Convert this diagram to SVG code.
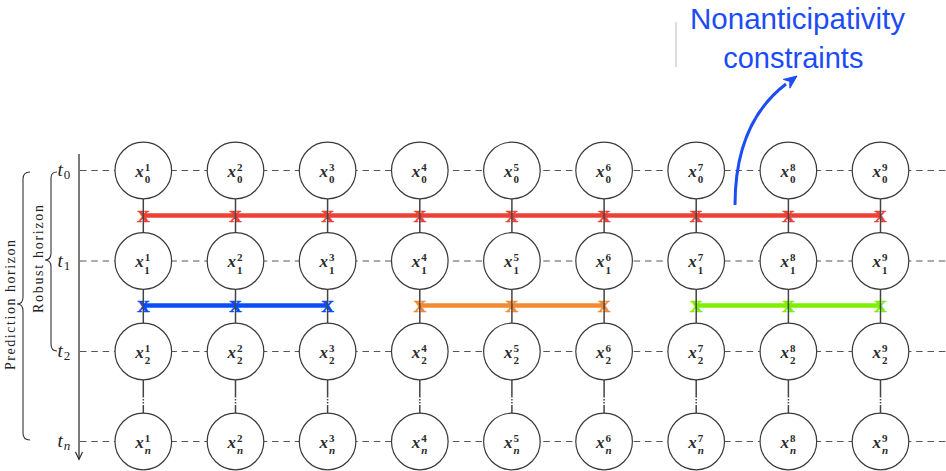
<svg xmlns="http://www.w3.org/2000/svg" width="946" height="471" viewBox="0 0 946 471">
<style>
.grid{stroke:#555;stroke-width:1;stroke-dasharray:6.5 4.8;fill:none}
.link{stroke:#444;stroke-width:1.5;fill:none}
.dot{stroke:#444;stroke-width:1.5;stroke-dasharray:1.5 1.5;fill:none}
.bar{stroke-width:4.5;fill:none}
.mk{font-family:"Liberation Serif",serif;font-weight:bold;font-size:17px;text-anchor:middle;stroke-width:0.7}
.c{fill:#fff;stroke:#3a3a3a;stroke-width:1.2}
.lb{font-family:"Liberation Serif",serif;font-style:italic;font-weight:bold;font-size:17px;fill:#2a2a2a}
.sp{font-style:normal;font-size:11px}
.sn{font-style:italic;font-size:11px}
.tl{font-family:"Liberation Serif",serif;font-style:italic;font-size:19px;fill:#222}
.ts{font-style:normal;font-size:13px}
.tsi{font-style:italic;font-size:13px}
.brace{stroke:#333;stroke-width:1.1;fill:none}
.hz{font-family:"Liberation Serif",serif;font-size:14px;fill:#222;text-anchor:middle}
.ann{font-family:"Liberation Sans",sans-serif;font-size:29px;fill:#1c4cf6;text-anchor:middle}
</style>

<g id="annotation">
<line x1="676" y1="22" x2="676" y2="67" stroke="#bbb" stroke-width="1"/>
<text class="ann" x="797.5" y="28.5" textLength="215" lengthAdjust="spacingAndGlyphs">Nonanticipativity</text>
<text class="ann" x="793.3" y="68">constraints</text>
</g>

<g id="axis">
<line x1="79" y1="154" x2="79" y2="459" stroke="#222" stroke-width="1.2"/>
<polyline points="75.5,452 79,459.5 82.5,452" fill="none" stroke="#222" stroke-width="1.1"/>
<text class="tl" x="57.5" y="176">t<tspan class="ts" dx="1" dy="3">0</tspan></text>
<text class="tl" x="57.5" y="267">t<tspan class="ts" dx="1" dy="3">1</tspan></text>
<text class="tl" x="57.5" y="357">t<tspan class="ts" dx="1" dy="3">2</tspan></text>
<text class="tl" x="57.5" y="447">t<tspan class="tsi" dx="1" dy="3">n</tspan></text>
</g>

<g id="robust-horizon">
<path class="brace" d="M57,172 Q51,172 51,178 L51,253 Q51,260 45,260 Q51,260 51,267 L51,344 Q51,351 57,351"/>
<text class="hz" transform="translate(43,259) rotate(-90)" textLength="108" lengthAdjust="spacing">Robust horizon</text>
</g>
<g id="prediction-horizon">
<path class="brace" d="M30,172 Q23,172 23,179 L23,297 Q23,304 17,304 Q23,304 23,311 L23,433 Q23,440 30,440"/>
<text class="hz" transform="translate(14.5,305) rotate(-90)" textLength="130" lengthAdjust="spacing">Prediction horizon</text>
</g>

<g id="connectors">
<line class="grid" x1="80" y1="170.5" x2="946" y2="170.5"/>
<line class="grid" x1="80" y1="261" x2="946" y2="261"/>
<line class="grid" x1="80" y1="351.5" x2="946" y2="351.5"/>
<line class="grid" x1="80" y1="441.5" x2="946" y2="441.5"/>
<line class="bar" stroke="#ec4136" x1="143.3" y1="215.5" x2="880.5" y2="215.5"/>
<line class="bar" stroke="#0a4cf8" x1="143.3" y1="305.5" x2="327.6" y2="305.5"/>
<line class="bar" stroke="#f28a31" x1="419.8" y1="305.5" x2="604.1" y2="305.5"/>
<line class="bar" stroke="#7df000" x1="696.2" y1="305.5" x2="880.5" y2="305.5"/>
<g class="mk" fill="#ec4136" stroke="#ec4136">
<text x="143.3" y="221.5">X</text><text x="235.5" y="221.5">X</text><text x="327.6" y="221.5">X</text>
<text x="419.8" y="221.5">X</text><text x="511.9" y="221.5">X</text><text x="604.1" y="221.5">X</text>
<text x="696.2" y="221.5">X</text><text x="788.4" y="221.5">X</text><text x="880.5" y="221.5">X</text>
</g>
<g class="mk" fill="#0a4cf8" stroke="#0a4cf8">
<text x="143.3" y="311.5">X</text><text x="235.5" y="311.5">X</text><text x="327.6" y="311.5">X</text>
</g>
<g class="mk" fill="#f28a31" stroke="#f28a31">
<text x="419.8" y="311.5">X</text><text x="511.9" y="311.5">X</text><text x="604.1" y="311.5">X</text>
</g>
<g class="mk" fill="#7df000" stroke="#7df000">
<text x="696.2" y="311.5">X</text><text x="788.4" y="311.5">X</text><text x="880.5" y="311.5">X</text>
</g>
<g id="col-links">
<path class="link" d="M143.3,199 V233 M143.3,289.5 V323.5 M143.3,380 V396 M143.3,405 V413.5"/>
<path class="dot" d="M143.3,396 V405"/>
<path class="link" d="M235.5,199 V233 M235.5,289.5 V323.5 M235.5,380 V396 M235.5,405 V413.5"/>
<path class="dot" d="M235.5,396 V405"/>
<path class="link" d="M327.6,199 V233 M327.6,289.5 V323.5 M327.6,380 V396 M327.6,405 V413.5"/>
<path class="dot" d="M327.6,396 V405"/>
<path class="link" d="M419.8,199 V233 M419.8,289.5 V323.5 M419.8,380 V396 M419.8,405 V413.5"/>
<path class="dot" d="M419.8,396 V405"/>
<path class="link" d="M511.9,199 V233 M511.9,289.5 V323.5 M511.9,380 V396 M511.9,405 V413.5"/>
<path class="dot" d="M511.9,396 V405"/>
<path class="link" d="M604.1,199 V233 M604.1,289.5 V323.5 M604.1,380 V396 M604.1,405 V413.5"/>
<path class="dot" d="M604.1,396 V405"/>
<path class="link" d="M696.2,199 V233 M696.2,289.5 V323.5 M696.2,380 V396 M696.2,405 V413.5"/>
<path class="dot" d="M696.2,396 V405"/>
<path class="link" d="M788.4,199 V233 M788.4,289.5 V323.5 M788.4,380 V396 M788.4,405 V413.5"/>
<path class="dot" d="M788.4,396 V405"/>
<path class="link" d="M880.5,199 V233 M880.5,289.5 V323.5 M880.5,380 V396 M880.5,405 V413.5"/>
<path class="dot" d="M880.5,396 V405"/>
</g>
<path d="M735,205 C735,150 752,110 786,84" fill="none" stroke="#1c4cf6" stroke-width="3"/>
<polygon points="797,76 789.9,88.2 789.8,81.4 783.3,79.4" fill="#1c4cf6" stroke="#1c4cf6" stroke-width="1" stroke-linejoin="round"/>
</g>

<g id="x1_0" transform="translate(143.3,170.5)"><circle class="c" r="28.3"/><text class="lb" x="-8" y="6">x<tspan class="sp" dx="1" dy="-6">1</tspan><tspan class="sp" dx="-5.5" dy="12.5">0</tspan></text></g>
<g id="x2_0" transform="translate(235.5,170.5)"><circle class="c" r="28.3"/><text class="lb" x="-8" y="6">x<tspan class="sp" dx="1" dy="-6">2</tspan><tspan class="sp" dx="-5.5" dy="12.5">0</tspan></text></g>
<g id="x3_0" transform="translate(327.6,170.5)"><circle class="c" r="28.3"/><text class="lb" x="-8" y="6">x<tspan class="sp" dx="1" dy="-6">3</tspan><tspan class="sp" dx="-5.5" dy="12.5">0</tspan></text></g>
<g id="x4_0" transform="translate(419.8,170.5)"><circle class="c" r="28.3"/><text class="lb" x="-8" y="6">x<tspan class="sp" dx="1" dy="-6">4</tspan><tspan class="sp" dx="-5.5" dy="12.5">0</tspan></text></g>
<g id="x5_0" transform="translate(511.9,170.5)"><circle class="c" r="28.3"/><text class="lb" x="-8" y="6">x<tspan class="sp" dx="1" dy="-6">5</tspan><tspan class="sp" dx="-5.5" dy="12.5">0</tspan></text></g>
<g id="x6_0" transform="translate(604.1,170.5)"><circle class="c" r="28.3"/><text class="lb" x="-8" y="6">x<tspan class="sp" dx="1" dy="-6">6</tspan><tspan class="sp" dx="-5.5" dy="12.5">0</tspan></text></g>
<g id="x7_0" transform="translate(696.2,170.5)"><circle class="c" r="28.3"/><text class="lb" x="-8" y="6">x<tspan class="sp" dx="1" dy="-6">7</tspan><tspan class="sp" dx="-5.5" dy="12.5">0</tspan></text></g>
<g id="x8_0" transform="translate(788.4,170.5)"><circle class="c" r="28.3"/><text class="lb" x="-8" y="6">x<tspan class="sp" dx="1" dy="-6">8</tspan><tspan class="sp" dx="-5.5" dy="12.5">0</tspan></text></g>
<g id="x9_0" transform="translate(880.5,170.5)"><circle class="c" r="28.3"/><text class="lb" x="-8" y="6">x<tspan class="sp" dx="1" dy="-6">9</tspan><tspan class="sp" dx="-5.5" dy="12.5">0</tspan></text></g>

<g id="x1_1" transform="translate(143.3,261)"><circle class="c" r="28.3"/><text class="lb" x="-8" y="6">x<tspan class="sp" dx="1" dy="-6">1</tspan><tspan class="sp" dx="-5.5" dy="12.5">1</tspan></text></g>
<g id="x2_1" transform="translate(235.5,261)"><circle class="c" r="28.3"/><text class="lb" x="-8" y="6">x<tspan class="sp" dx="1" dy="-6">2</tspan><tspan class="sp" dx="-5.5" dy="12.5">1</tspan></text></g>
<g id="x3_1" transform="translate(327.6,261)"><circle class="c" r="28.3"/><text class="lb" x="-8" y="6">x<tspan class="sp" dx="1" dy="-6">3</tspan><tspan class="sp" dx="-5.5" dy="12.5">1</tspan></text></g>
<g id="x4_1" transform="translate(419.8,261)"><circle class="c" r="28.3"/><text class="lb" x="-8" y="6">x<tspan class="sp" dx="1" dy="-6">4</tspan><tspan class="sp" dx="-5.5" dy="12.5">1</tspan></text></g>
<g id="x5_1" transform="translate(511.9,261)"><circle class="c" r="28.3"/><text class="lb" x="-8" y="6">x<tspan class="sp" dx="1" dy="-6">5</tspan><tspan class="sp" dx="-5.5" dy="12.5">1</tspan></text></g>
<g id="x6_1" transform="translate(604.1,261)"><circle class="c" r="28.3"/><text class="lb" x="-8" y="6">x<tspan class="sp" dx="1" dy="-6">6</tspan><tspan class="sp" dx="-5.5" dy="12.5">1</tspan></text></g>
<g id="x7_1" transform="translate(696.2,261)"><circle class="c" r="28.3"/><text class="lb" x="-8" y="6">x<tspan class="sp" dx="1" dy="-6">7</tspan><tspan class="sp" dx="-5.5" dy="12.5">1</tspan></text></g>
<g id="x8_1" transform="translate(788.4,261)"><circle class="c" r="28.3"/><text class="lb" x="-8" y="6">x<tspan class="sp" dx="1" dy="-6">8</tspan><tspan class="sp" dx="-5.5" dy="12.5">1</tspan></text></g>
<g id="x9_1" transform="translate(880.5,261)"><circle class="c" r="28.3"/><text class="lb" x="-8" y="6">x<tspan class="sp" dx="1" dy="-6">9</tspan><tspan class="sp" dx="-5.5" dy="12.5">1</tspan></text></g>

<g id="x1_2" transform="translate(143.3,351.5)"><circle class="c" r="28.3"/><text class="lb" x="-8" y="6">x<tspan class="sp" dx="1" dy="-6">1</tspan><tspan class="sp" dx="-5.5" dy="12.5">2</tspan></text></g>
<g id="x2_2" transform="translate(235.5,351.5)"><circle class="c" r="28.3"/><text class="lb" x="-8" y="6">x<tspan class="sp" dx="1" dy="-6">2</tspan><tspan class="sp" dx="-5.5" dy="12.5">2</tspan></text></g>
<g id="x3_2" transform="translate(327.6,351.5)"><circle class="c" r="28.3"/><text class="lb" x="-8" y="6">x<tspan class="sp" dx="1" dy="-6">3</tspan><tspan class="sp" dx="-5.5" dy="12.5">2</tspan></text></g>
<g id="x4_2" transform="translate(419.8,351.5)"><circle class="c" r="28.3"/><text class="lb" x="-8" y="6">x<tspan class="sp" dx="1" dy="-6">4</tspan><tspan class="sp" dx="-5.5" dy="12.5">2</tspan></text></g>
<g id="x5_2" transform="translate(511.9,351.5)"><circle class="c" r="28.3"/><text class="lb" x="-8" y="6">x<tspan class="sp" dx="1" dy="-6">5</tspan><tspan class="sp" dx="-5.5" dy="12.5">2</tspan></text></g>
<g id="x6_2" transform="translate(604.1,351.5)"><circle class="c" r="28.3"/><text class="lb" x="-8" y="6">x<tspan class="sp" dx="1" dy="-6">6</tspan><tspan class="sp" dx="-5.5" dy="12.5">2</tspan></text></g>
<g id="x7_2" transform="translate(696.2,351.5)"><circle class="c" r="28.3"/><text class="lb" x="-8" y="6">x<tspan class="sp" dx="1" dy="-6">7</tspan><tspan class="sp" dx="-5.5" dy="12.5">2</tspan></text></g>
<g id="x8_2" transform="translate(788.4,351.5)"><circle class="c" r="28.3"/><text class="lb" x="-8" y="6">x<tspan class="sp" dx="1" dy="-6">8</tspan><tspan class="sp" dx="-5.5" dy="12.5">2</tspan></text></g>
<g id="x9_2" transform="translate(880.5,351.5)"><circle class="c" r="28.3"/><text class="lb" x="-8" y="6">x<tspan class="sp" dx="1" dy="-6">9</tspan><tspan class="sp" dx="-5.5" dy="12.5">2</tspan></text></g>

<g id="x1_n" transform="translate(143.3,441.5)"><circle class="c" r="28.3"/><text class="lb" x="-8" y="6">x<tspan class="sp" dx="1" dy="-6">1</tspan><tspan class="sn" dx="-5.5" dy="12.5">n</tspan></text></g>
<g id="x2_n" transform="translate(235.5,441.5)"><circle class="c" r="28.3"/><text class="lb" x="-8" y="6">x<tspan class="sp" dx="1" dy="-6">2</tspan><tspan class="sn" dx="-5.5" dy="12.5">n</tspan></text></g>
<g id="x3_n" transform="translate(327.6,441.5)"><circle class="c" r="28.3"/><text class="lb" x="-8" y="6">x<tspan class="sp" dx="1" dy="-6">3</tspan><tspan class="sn" dx="-5.5" dy="12.5">n</tspan></text></g>
<g id="x4_n" transform="translate(419.8,441.5)"><circle class="c" r="28.3"/><text class="lb" x="-8" y="6">x<tspan class="sp" dx="1" dy="-6">4</tspan><tspan class="sn" dx="-5.5" dy="12.5">n</tspan></text></g>
<g id="x5_n" transform="translate(511.9,441.5)"><circle class="c" r="28.3"/><text class="lb" x="-8" y="6">x<tspan class="sp" dx="1" dy="-6">5</tspan><tspan class="sn" dx="-5.5" dy="12.5">n</tspan></text></g>
<g id="x6_n" transform="translate(604.1,441.5)"><circle class="c" r="28.3"/><text class="lb" x="-8" y="6">x<tspan class="sp" dx="1" dy="-6">6</tspan><tspan class="sn" dx="-5.5" dy="12.5">n</tspan></text></g>
<g id="x7_n" transform="translate(696.2,441.5)"><circle class="c" r="28.3"/><text class="lb" x="-8" y="6">x<tspan class="sp" dx="1" dy="-6">7</tspan><tspan class="sn" dx="-5.5" dy="12.5">n</tspan></text></g>
<g id="x8_n" transform="translate(788.4,441.5)"><circle class="c" r="28.3"/><text class="lb" x="-8" y="6">x<tspan class="sp" dx="1" dy="-6">8</tspan><tspan class="sn" dx="-5.5" dy="12.5">n</tspan></text></g>
<g id="x9_n" transform="translate(880.5,441.5)"><circle class="c" r="28.3"/><text class="lb" x="-8" y="6">x<tspan class="sp" dx="1" dy="-6">9</tspan><tspan class="sn" dx="-5.5" dy="12.5">n</tspan></text></g>
</svg>
